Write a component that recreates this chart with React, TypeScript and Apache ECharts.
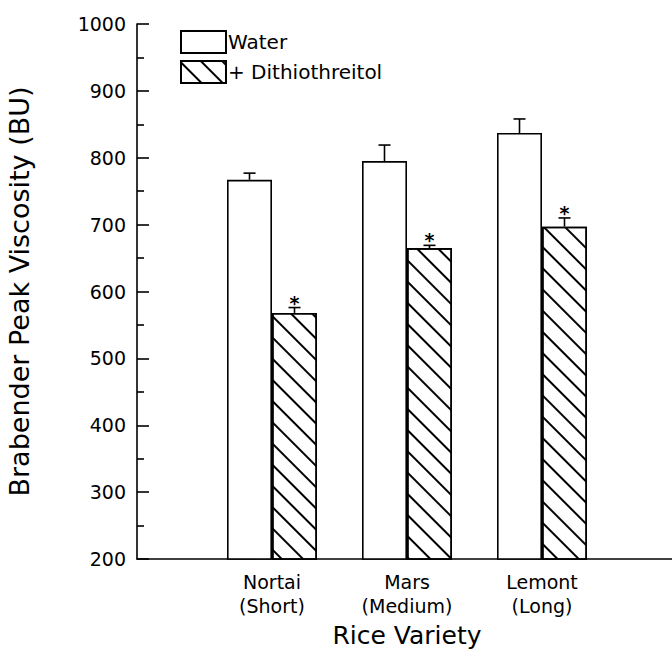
import React, { useEffect, useRef } from "react";
import * as echarts from "echarts";

const categories = ["", "Nortai\n(Short)", "Mars\n(Medium)", "Lemont\n(Long)", ""];
const waterValues = [767, 795, 837];
const waterErrors = [10, 24, 21];
const dttValues = [568, 665, 697];
const dttErrors = [8, 4, 13];
const seriesNames = ["Water", "+ Dithiothreitol"];
const yMin = 200;
const yMax = 1000;
const yInterval = 100;

const FONT = "DejaVu Sans";

export default function App() {
  const ref = useRef<HTMLDivElement>(null);

  useEffect(() => {
    if (!ref.current) return;
    const chart = echarts.init(ref.current, undefined, { renderer: "svg" });

    const pad = (arr: number[]) => ["-", ...arr, "-"];
    const errData = (vals: number[], errs: number[]) =>
      vals.map((v, i) => [i + 1, v, errs[i]]);

    const makeErr = (offset: number, star: boolean) =>
      (params: any, api: any) => {
        const idx = api.value(0);
        const v = api.value(1);
        const e = api.value(2);
        const top = api.coord([idx, v]);
        const cap = api.coord([idx, v + e]);
        const x = top[0] + offset;
        const children: any[] = [
          {
            type: "line",
            shape: { x1: x, y1: top[1], x2: x, y2: cap[1] },
            style: { stroke: "#000", lineWidth: 1.6 },
          },
          {
            type: "line",
            shape: { x1: x - 6, y1: cap[1], x2: x + 6, y2: cap[1] },
            style: { stroke: "#000", lineWidth: 1.6 },
          },
        ];
        if (star) {
          children.push({
            type: "text",
            x: x,
            y: cap[1] - 5,
            style: {
              text: "*",
              align: "center",
              verticalAlign: "middle",
              fontSize: 19,
              fontWeight: "bold",
              fontFamily: FONT,
              fill: "#000",
            },
          });
        }
        return { type: "group", children };
      };

    const barWidth = 45;

    chart.setOption({
      animation: false,
      grid: {
        left: 137,
        top: 24,
        bottom: 90,
        right: -5,
        outerBoundsMode: "none",
        containLabel: false,
      },
      legend: {
        orient: "vertical",
        left: 180,
        top: 30,
        padding: 0,
        itemGap: 6,
        itemWidth: 45,
        itemHeight: 22,
        icon: "rect",
        data: seriesNames,
        textStyle: { fontFamily: FONT, fontSize: 20, color: "#000", padding: [0, 0, 0, -3] },
      },
      xAxis: {
        type: "category",
        data: categories,
        boundaryGap: false,
        axisLine: { lineStyle: { color: "#000", width: 1.6 } },
        axisTick: { show: false },
        axisLabel: {
          interval: 0,
          color: "#000",
          fontFamily: FONT,
          fontSize: 19,
          lineHeight: 24,
          margin: 11,
        },
        name: "Rice Variety",
        nameLocation: "middle",
        nameGap: 61,
        nameTextStyle: { fontFamily: FONT, fontSize: 25, color: "#000" },
      },
      yAxis: {
        type: "value",
        min: yMin,
        max: yMax,
        interval: yInterval,
        axisLine: { show: true, lineStyle: { color: "#000", width: 1.6 } },
        axisTick: {
          show: true,
          inside: true,
          length: 12,
          lineStyle: { color: "#000", width: 1.6 },
        },
        minorTick: {
          show: true,
          splitNumber: 2,
          length: 7,
          lineStyle: { color: "#000", width: 1.6 },
        },
        splitLine: { show: false },
        axisLabel: {
          color: "#000",
          fontFamily: FONT,
          fontSize: 19,
          margin: 11,
          formatter: (v: number) => String(v),
        },
        name: "Brabender Peak Viscosity (BU)",
        nameLocation: "middle",
        nameGap: 104,
        nameTextStyle: { fontFamily: FONT, fontSize: 27, color: "#000" },
      },
      series: [
        {
          name: seriesNames[0],
          type: "bar",
          data: pad(waterValues),
          barWidth,
          barGap: "0%",
          itemStyle: { color: "#fff", borderColor: "#000", borderWidth: 1.6 },
        },
        {
          name: seriesNames[1],
          type: "bar",
          data: pad(dttValues),
          barWidth,
          barGap: "0%",
          itemStyle: {
            color: "#fff",
            borderColor: "#000",
            borderWidth: 1.6,
            decal: {
              symbol: "rect",
              symbolSize: 1,
              color: "#000",
              dashArrayX: [1, 0],
              dashArrayY: [1.6, 12.4],
              rotation: Math.PI / 4,
            },
          },
        },
        {
          type: "custom",
          data: errData(waterValues, waterErrors),
          encode: { x: 0, y: 1 },
          renderItem: makeErr(-barWidth / 2, false),
          z: 5,
          silent: true,
        },
        {
          type: "custom",
          data: errData(dttValues, dttErrors),
          encode: { x: 0, y: 1 },
          renderItem: makeErr(barWidth / 2, true),
          z: 5,
          silent: true,
        },
      ],
    });

    return () => chart.dispose();
  }, []);

  return (
    <div
      ref={ref}
      style={{ position: "absolute", left: 0, top: 0, width: 672, height: 649, background: "#fff" }}
    />
  );
}
